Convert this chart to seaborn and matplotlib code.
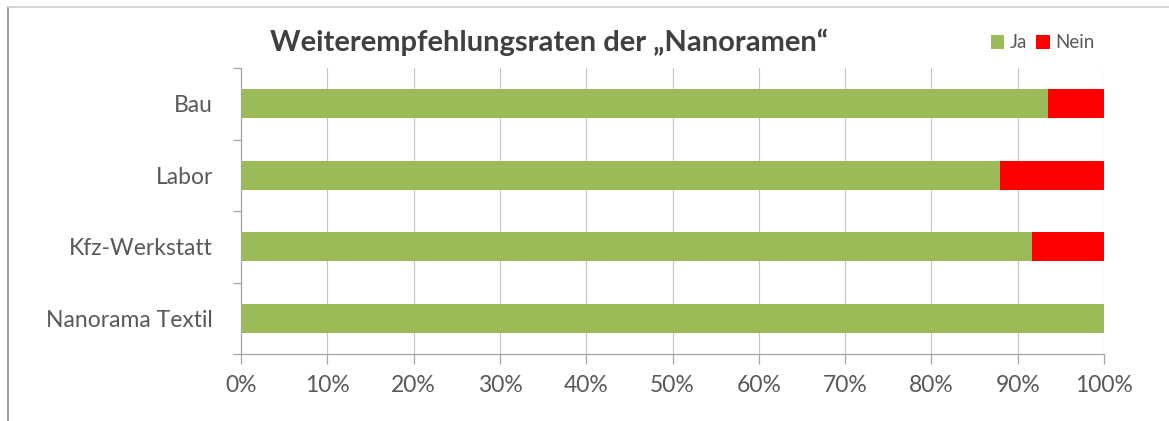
import matplotlib
matplotlib.use("Agg")
import matplotlib.pyplot as plt
import seaborn as sns
import pandas as pd
from matplotlib.patches import Patch
from matplotlib.lines import Line2D
from matplotlib.ticker import FixedLocator, PercentFormatter

categories = ["Bau", "Labor", "Kfz-Werkstatt", "Nanorama Textil"]
ja = [93.5, 88.0, 91.7, 100.0]
nein = [6.5, 12.0, 8.3, 0.0]
xticks = [0, 10, 20, 30, 40, 50, 60, 70, 80, 90, 100]

sns.set_theme(style="white")
plt.rcParams["font.family"] = ["Lato", "DejaVu Sans"]

GREEN = "#9BBB59"
RED = "#FF0000"
GRAY_TXT = "#595959"
GRID = "#C4C4C4"

df = pd.DataFrame({"cat": categories, "ja": ja, "nein": nein})
df["total"] = df["ja"] + df["nein"]

fig = plt.figure(figsize=(11.69, 4.21), dpi=100)
ax = fig.add_axes([241 / 1169, 1 - 354 / 421, (1104 - 241) / 1169, (354 - 68) / 421])

sns.barplot(data=df, y="cat", x="total", color=RED, width=0.4, ax=ax,
            orient="h", saturation=1, linewidth=0, zorder=3)
sns.barplot(data=df, y="cat", x="ja", color=GREEN, width=0.4, ax=ax,
            orient="h", saturation=1, linewidth=0, zorder=4)

ax.set_xlim(0, 100)
ax.set_ylim(3.5, -0.5)
ax.xaxis.set_major_locator(FixedLocator(xticks))
ax.xaxis.set_major_formatter(PercentFormatter(100, decimals=0))
ax.set_xlabel("")
ax.set_ylabel("")

ax.grid(axis="x", color=GRID, linewidth=0.8, zorder=0)
ax.set_axisbelow(True)
for s in ["top", "right"]:
    ax.spines[s].set_visible(False)
for s in ["left", "bottom"]:
    ax.spines[s].set_color("#A6A6A6")
    ax.spines[s].set_linewidth(0.9)

ax.tick_params(axis="x", bottom=True, length=7, color="#A6A6A6", width=0.9,
               labelsize=16.5, labelcolor=GRAY_TXT, pad=8)
ax.tick_params(axis="y", left=False, labelsize=16.5, labelcolor=GRAY_TXT, pad=14)
ax.yaxis.set_minor_locator(FixedLocator([-0.5, 0.5, 1.5, 2.5, 3.5]))
ax.tick_params(axis="y", which="minor", left=True, length=6, color="#A6A6A6", width=0.9)

fig.text(549 / 1169, 1 - 42 / 421, "Weiterempfehlungsraten der \u201eNanoramen\u201c",
         ha="center", va="center", fontsize=21, fontweight="bold", color="#404040")

handles = [Patch(facecolor=GREEN, edgecolor="none"), Patch(facecolor=RED, edgecolor="none")]
leg = fig.legend(handles, ["Ja", "Nein"], loc="center right",
                 bbox_to_anchor=(1102 / 1169, 1 - 43 / 421), ncol=2, frameon=False,
                 fontsize=13.5, handlelength=0.7, handleheight=0.7, handletextpad=0.3,
                 columnspacing=0.5, borderaxespad=0)
for t in leg.get_texts():
    t.set_color(GRAY_TXT)

# chart frame (left and top edges visible in the reference)
fig.add_artist(Line2D([8 / 1169, 8 / 1169], [0, 1 - 7 / 421], transform=fig.transFigure,
                      color="#8C8C8C", linewidth=1.2))
fig.add_artist(Line2D([8 / 1169, 1], [1 - 7 / 421, 1 - 7 / 421], transform=fig.transFigure,
                      color="#D0D0D0", linewidth=1.2))

fig.savefig("out.png", dpi=100)
